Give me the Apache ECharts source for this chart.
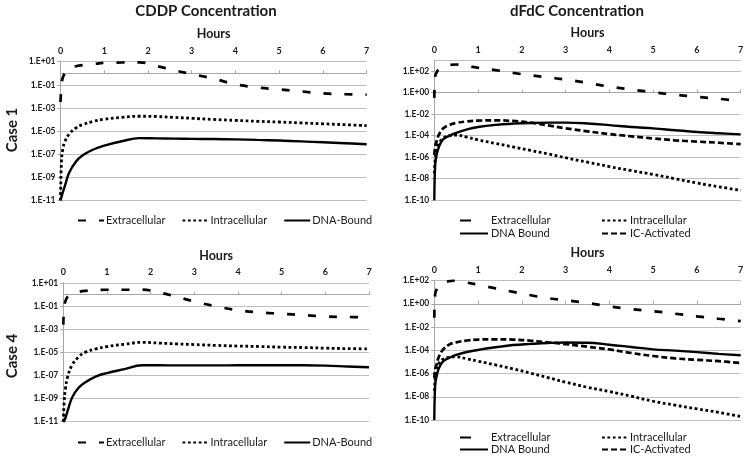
<!DOCTYPE html>
<html>
<head>
<meta charset="utf-8">
<script src="https://cdn.jsdelivr.net/npm/echarts@6/dist/echarts.min.js"></script>
<style>
html,body{margin:0;padding:0;background:#fff;}
#chart{width:748px;height:458px;}
</style>
</head>
<body>
<div id="chart"></div>
<script>
// ---- data (hours, concentrations) ----
const hours = [0, 0.02, 0.05, 0.1, 0.2, 0.35, 0.5, 0.75, 1, 1.4, 1.8, 2.2, 2.6, 3, 3.5, 4, 4.5, 5, 5.5, 6, 6.5, 7];
const xTicks = [0, 1, 2, 3, 4, 5, 6, 7];

// CDDP, Case 1
const cddp1Extra = [3.2e-3, 6.3e-2, 0.40, 1.0, 2.8, 4.0, 5.0, 6.3, 7.9, 8.5, 8.9, 4.2, 1.8, 0.85, 0.34, 0.11, 0.059, 0.040, 0.027, 0.018, 0.0155, 0.0141];
const cddp1Intra = [1e-11, 1.6e-8, 2.5e-7, 1.2e-6, 5.6e-6, 1.8e-5, 3.5e-5, 6.9e-5, 1.05e-4, 1.5e-4, 1.9e-4, 1.8e-4, 1.5e-4, 1.26e-4, 1.0e-4, 8.3e-5, 6.9e-5, 6.0e-5, 5.0e-5, 4.2e-5, 3.5e-5, 2.9e-5];
const cddp1Dna = [1e-11, 1.8e-11, 4.5e-11, 1.8e-10, 2.5e-9, 2.2e-8, 7.6e-8, 2.5e-7, 5.4e-7, 1.3e-6, 2.4e-6, 2.3e-6, 2.2e-6, 2.1e-6, 2.0e-6, 1.9e-6, 1.7e-6, 1.5e-6, 1.26e-6, 1.05e-6, 8.7e-7, 7.1e-7];

// CDDP, Case 4
const cddp4Extra = [2.5e-3, 0.10, 0.28, 0.66, 1.26, 1.74, 2.1, 2.4, 2.6, 2.6, 2.7, 1.5, 0.63, 0.25, 0.095, 0.044, 0.028, 0.022, 0.0166, 0.0126, 0.0115, 0.0107];
const cddp4Intra = [1e-11, 5.0e-10, 7.9e-9, 7.9e-8, 7.9e-7, 4.0e-6, 1.0e-5, 2.0e-5, 3.2e-5, 5.0e-5, 7.4e-5, 6.3e-5, 5.4e-5, 4.7e-5, 4.0e-5, 3.5e-5, 3.2e-5, 2.8e-5, 2.6e-5, 2.3e-5, 2.1e-5, 2.0e-5];
const cddp4Dna = [1e-11, 1.2e-11, 2.2e-11, 9.0e-11, 1.2e-9, 8.5e-9, 2.5e-8, 8.5e-8, 1.6e-7, 3.5e-7, 7.6e-7, 7.6e-7, 7.4e-7, 7.4e-7, 7.4e-7, 7.6e-7, 7.6e-7, 7.6e-7, 7.6e-7, 7.1e-7, 6.0e-7, 5.1e-7];

// dFdC, Case 1
const dfdc1Extra = [0.32, 30, 71, 141, 251, 355, 398, 282, 200, 120, 66, 40, 25, 15.8, 7.9, 3.5, 1.9, 1.05, 0.63, 0.40, 0.26, 0.166];
const dfdc1Intra = [3.2e-8, 6.3e-7, 3.2e-6, 1.6e-5, 5.6e-5, 1.0e-4, 1.12e-4, 7.1e-5, 4.0e-5, 1.9e-5, 8.9e-6, 4.2e-6, 2.0e-6, 8.9e-7, 3.4e-7, 1.35e-7, 5.6e-8, 2.5e-8, 1.0e-8, 4.0e-9, 1.8e-9, 8.3e-10];
const dfdc1Dna = [1e-10, 2.0e-7, 1.4e-6, 7.9e-6, 4.5e-5, 1.0e-4, 1.8e-4, 3.8e-4, 6.3e-4, 1.0e-3, 1.3e-3, 1.5e-3, 1.6e-3, 1.6e-3, 1.35e-3, 9.5e-4, 6.3e-4, 4.7e-4, 3.2e-4, 2.2e-4, 1.66e-4, 1.3e-4];
const dfdc1Ic = [1.6e-6, 1.0e-5, 2.8e-5, 1.12e-4, 4.5e-4, 1.0e-3, 1.5e-3, 2.1e-3, 2.5e-3, 2.6e-3, 2.3e-3, 1.6e-3, 8.9e-4, 4.8e-4, 2.5e-4, 1.4e-4, 8.7e-5, 5.5e-5, 3.7e-5, 2.8e-5, 2.2e-5, 1.6e-5];

// dFdC, Case 4
const dfdc4Extra = [0.063, 7.2, 15.8, 32, 63, 89, 100, 66, 43, 21, 10.5, 5.4, 3.0, 2.0, 1.17, 0.59, 0.35, 0.23, 0.138, 0.083, 0.051, 0.032];
const dfdc4Intra = [3.2e-8, 3.2e-7, 1.6e-6, 7.1e-6, 1.66e-5, 2.5e-5, 2.7e-5, 1.8e-5, 1.15e-5, 5.4e-6, 2.5e-6, 1.07e-6, 4.4e-7, 1.8e-7, 6.5e-8, 2.8e-8, 1.12e-8, 4.1e-9, 1.9e-9, 9.1e-10, 4.5e-10, 2.0e-10];
const dfdc4Dna = [1e-10, 1.0e-7, 5.0e-7, 2.5e-6, 1.12e-5, 2.3e-5, 4.0e-5, 7.1e-5, 1.07e-4, 1.8e-4, 2.8e-4, 3.5e-4, 4.2e-4, 4.6e-4, 4.4e-4, 3.0e-4, 1.9e-4, 1.2e-4, 9.3e-5, 6.9e-5, 4.9e-5, 3.7e-5];
const dfdc4Ic = [4.0e-7, 2.5e-6, 5.2e-6, 2.5e-5, 1.12e-4, 3.2e-4, 4.8e-4, 6.9e-4, 8.3e-4, 8.7e-4, 8.3e-4, 6.6e-4, 4.8e-4, 3.4e-4, 2.0e-4, 1.17e-4, 5.8e-5, 3.2e-5, 2.0e-5, 1.5e-5, 1.15e-5, 8.1e-6];

// y ranges as powers of ten (exponents)
const cddpExp = [-11, 1];
const dfdc1Exp = [-10, 3];
const dfdc4Exp = [-10, 2];

// ---- chart ----
const FONT = 'Lato, "Open Sans", sans-serif';
const GRID_C = '#bfbfbf';

function expLabel(v) {
  const n = Math.round(v);
  const a = Math.abs(n);
  return '1.E' + (n < 0 ? '-' : '+') + (a < 10 ? '0' + a : '' + a);
}
function toPts(arr) { return hours.map((h, i) => [h, Math.log10(arr[i])]); }

const grids = [
  { left: 60.5, top: 61.7, width: 306.2, height: 138.6 },
  { left: 434.3, top: 60.2, width: 306.4, height: 140.1 },
  { left: 63.3, top: 283, width: 305.7, height: 138.7 },
  { left: 434.3, top: 280.5, width: 306.4, height: 139.5 }
];
const yExps = [cddpExp, dfdc1Exp, cddpExp, dfdc4Exp];

const xAxes = grids.map((g, i) => ({
  gridIndex: i, type: 'value', position: 'top', min: xTicks[0], max: xTicks[xTicks.length - 1], interval: 1,
  name: 'Hours', nameLocation: 'middle', nameGap: 21,
  nameTextStyle: { fontFamily: FONT, fontWeight: 'bold', fontSize: 12.5, color: '#1a1a1a' },
  axisLine: { show: true, lineStyle: { color: '#a6a6a6', width: 1 } },
  axisTick: { show: true, length: 3, lineStyle: { color: '#a6a6a6' } },
  axisLabel: { margin: 6, fontFamily: FONT, fontWeight: 'bold', fontSize: 9, color: '#1a1a1a' },
  splitLine: { show: false }
}));

const yAxes = grids.map((g, i) => ({
  gridIndex: i, type: 'value', min: yExps[i][0], max: yExps[i][1], interval: 2,
  axisLine: { show: true, lineStyle: { color: '#a6a6a6', width: 1 } },
  axisTick: { show: true, length: 3, lineStyle: { color: '#a6a6a6' } },
  axisLabel: { margin: 5, fontFamily: FONT, fontWeight: 'bold', fontSize: 8.5, color: '#1a1a1a',
    showMaxLabel: i !== 1, formatter: expLabel },
  splitLine: { show: true, lineStyle: { color: GRID_C, width: 1 } }
}));

const styles = {
  Extracellular: { color: '#000', width: 2.7, type: [8, 13] },
  Intracellular: { color: '#000', width: 2.8, type: [2.8, 2.6] },
  'DNA-Bound': { color: '#000', width: 2.4, type: 'solid' },
  'DNA Bound': { color: '#000', width: 2.4, type: 'solid' },
  'IC-Activated': { color: '#000', width: 2.7, type: [6, 3] }
};
function line(name, gi, arr) {
  return {
    type: 'line', name: name, xAxisIndex: gi, yAxisIndex: gi, data: toPts(arr),
    smooth: 0.4,
    showSymbol: false, symbol: 'none', lineStyle: styles[name], itemStyle: { color: '#000' },
    silent: true, z: name === 'DNA-Bound' || name === 'DNA Bound' ? 3 : 2
  };
}

const series = [
  line('Extracellular', 0, cddp1Extra), line('Intracellular', 0, cddp1Intra), line('DNA-Bound', 0, cddp1Dna),
  line('Extracellular', 1, dfdc1Extra), line('Intracellular', 1, dfdc1Intra), line('DNA Bound', 1, dfdc1Dna), line('IC-Activated', 1, dfdc1Ic),
  line('Extracellular', 2, cddp4Extra), line('Intracellular', 2, cddp4Intra), line('DNA-Bound', 2, cddp4Dna),
  line('Extracellular', 3, dfdc4Extra), line('Intracellular', 3, dfdc4Intra), line('DNA Bound', 3, dfdc4Dna), line('IC-Activated', 3, dfdc4Ic)
];

const legTxt = { fontFamily: FONT, fontSize: 11, color: '#1a1a1a', padding: [0, 0, 0, -3] };
function legend(extra) {
  return Object.assign({ selectedMode: false, itemWidth: 26, itemHeight: 10, textStyle: legTxt, padding: 0,
    itemStyle: { opacity: 0, color: 'rgba(0,0,0,0)', borderWidth: 0 } }, extra);
}
const legends = [
  legend({ left: 77, top: 215, itemGap: 16, data: ['Extracellular', 'Intracellular', 'DNA-Bound'] }),
  legend({ left: 77, top: 437, itemGap: 16, data: ['Extracellular', 'Intracellular', 'DNA-Bound'] }),
  legend({ left: 459, top: 215, orient: 'vertical', itemGap: 2, itemWidth: 28, textStyle: Object.assign({}, legTxt, { padding: [0, 0, 0, -2] }),
    data: [{ name: 'Extracellular', lineStyle: { type: [11, 40] } }, 'DNA Bound'] }),
  legend({ left: 601, top: 215, orient: 'vertical', itemGap: 2, itemWidth: 26, data: ['Intracellular', 'IC-Activated'] }),
  legend({ left: 459, top: 432, orient: 'vertical', itemGap: 1, itemWidth: 28, textStyle: Object.assign({}, legTxt, { padding: [0, 0, 0, -2] }),
    data: [{ name: 'Extracellular', lineStyle: { type: [11, 40] } }, 'DNA Bound'] }),
  legend({ left: 601, top: 432, orient: 'vertical', itemGap: 1, itemWidth: 26, data: ['Intracellular', 'IC-Activated'] })
];

const titleFont = 'bold 15px ' + FONT;
const graphic = [
  { type: 'text', x: 206, y: 11, style: { text: 'CDDP Concentration', font: titleFont, fill: '#1a1a1a', textAlign: 'center', textVerticalAlign: 'middle' } },
  { type: 'text', x: 577, y: 11, style: { text: 'dFdC Concentration', font: titleFont, fill: '#1a1a1a', textAlign: 'center', textVerticalAlign: 'middle' } },
  { type: 'text', x: 12, y: 130, rotation: Math.PI / 2, style: { text: 'Case 1', font: titleFont, fill: '#1a1a1a', textAlign: 'center', textVerticalAlign: 'middle' } },
  { type: 'text', x: 12, y: 356, rotation: Math.PI / 2, style: { text: 'Case 4', font: titleFont, fill: '#1a1a1a', textAlign: 'center', textVerticalAlign: 'middle' } }
];

const chart = echarts.init(document.getElementById('chart'), null, { renderer: 'canvas' });
chart.setOption({
  animation: false,
  backgroundColor: '#fff',
  grid: grids,
  xAxis: xAxes,
  yAxis: yAxes,
  legend: legends,
  graphic: graphic,
  series: series
});
</script>
</body>
</html>
